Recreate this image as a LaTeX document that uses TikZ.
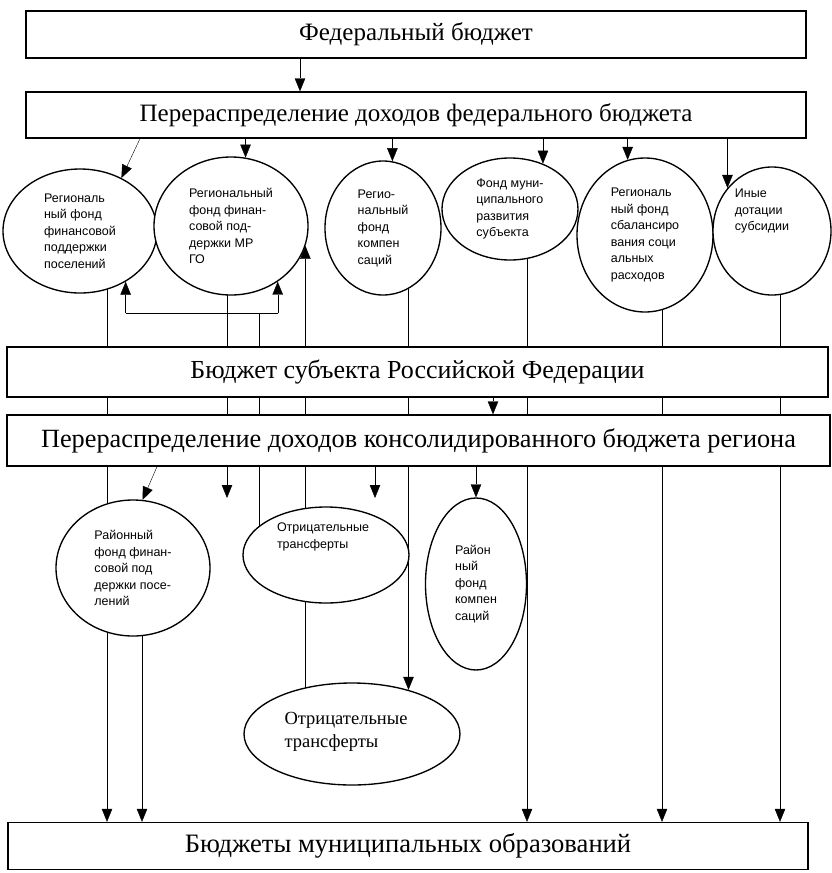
\documentclass[tikz,border=0pt]{standalone}
\usepackage{fontspec}
\setmainfont{Liberation Serif}
\newfontfamily\fundfont{Liberation Sans}
\usetikzlibrary{arrows.meta,shapes.geometric}
\pgfdeclarelayer{back}
\pgfsetlayers{back,main}

\begin{document}
\begin{tikzpicture}[x=1pt, y=-1pt, line width=1.35pt,
    budget/.style={draw, fill=white, inner sep=0pt, font=\fontsize{26}{30}\selectfont},
    fund/.style={draw, ellipse, fill=white, inner sep=0pt, align=left,
        font=\fundfont\fontsize{12.5}{16.5}\selectfont},
    fundtxt/.style={inner sep=0pt, align=left, font=\fundfont\fontsize{12.5}{16.5}\selectfont},
    flow/.style={-{Triangle[length=13pt,width=10.5pt]}},
    upflow/.style={{Triangle[length=13pt,width=10.5pt]}-}]
    \useasboundingbox (0,0) rectangle (831,873);

    % budgets
    \node[budget, minimum width=780pt, minimum height=47pt, font=\fontsize{25}{30}\selectfont] (fed) at (416,34.5) {Федеральный бюджет};
    \node[budget, minimum width=780pt, minimum height=46pt, font=\fontsize{25}{30}\selectfont] (redist) at (416,115) {Перераспределение доходов федерального бюджета};
    \node[budget, minimum width=821pt, minimum height=50pt] (subj) at (417.5,372) {Бюджет субъекта Российской Федерации};
    \node[budget, minimum width=823pt, minimum height=51pt, font=\fontsize{26.3}{30}\selectfont] (cons) at (418.5,440.5) {Перераспределение доходов консолидированного бюджета региона};
    \node[budget, minimum width=800pt, minimum height=47pt, font=\fontsize{26.6}{30}\selectfont] (mun) at (408,846) {Бюджеты муниципальных образований};

    % regional funds
    \node[fund, minimum width=154pt, minimum height=124pt] (e1) at (80,231) {Региональ\\ный фонд\\финансовой\\поддержки\\поселений};
    \node[fund, minimum width=154pt, minimum height=138pt] (e2) at (231,226) {Региональный\\фонд финан-\\совой под-\\держки МР\\ГО};
    \node[fund, minimum width=116pt, minimum height=134pt] (e3) at (383,228) {Регио-\\нальный\\фонд\\компен\\саций};
    \node[fund, minimum width=136pt, minimum height=102pt] (e4) at (510,209) {Фонд муни-\\ципального\\развития\\субъекта};
    \node[fund, minimum width=136pt, minimum height=154pt] (e5) at (645,235) {Региональ\\ный фонд\\сбалансиро\\вания соци\\альных\\расходов};
    \node[fund, minimum width=118pt, minimum height=128pt] (e6) at (772,231) {};
    \node[fundtxt] (e6txt) at ([xshift=-10pt, yshift=20pt]e6.center) {Иные\\дотации\\субсидии};

    % district funds
    \node[fund, minimum width=154pt, minimum height=136pt] (e7) at (133,568) {Районный\\фонд финан-\\совой под\\держки посе-\\лений};
    \node[fund, minimum width=166pt, minimum height=96pt] (e8) at (326,555) {};
    \node[fundtxt] (e8txt) at ([xshift=-3pt, yshift=18pt]e8.center) {Отрицательные\\трансферты};
    \node[fund, minimum width=101pt, minimum height=172pt] (e9) at (476,584) {Район\\ный\\фонд\\компен\\саций};
    \node[fund, minimum width=216pt, minimum height=102pt] (e10) at (352,734) {};
    \node[fundtxt, font=\rmfamily\fontsize{18.5}{23}\selectfont] (e10txt) at ([xshift=-6pt, yshift=2pt]e10.center) {Отрицательные\\трансферты};

    % lanes
    \foreach \n/\x in {lA/107, lB/142, lC/140, lD/157, lF/259, lG/300, lI/493, lJ/527, lK/662, lL/780}
        \coordinate (\n) at (\x,0);
    \coordinate (yfb) at (0,313);
    \coordinate (freeA) at (227,498);
    \coordinate (freeB) at (375,498);

    \begin{pgfonlayer}{back}
        % federal level
        \draw[flow] (fed.south -| lG) -- (redist.north -| lG);
        \draw[flow] (redist.south -| lC) -- (e1.52);
        \draw[flow] (redist.south -| e2.78) -- (e2.78);
        \draw[flow] (redist.south -| e3.82) -- (e3.82);
        \draw[flow] (redist.south -| e4.54) -- (e4.54);
        \draw[flow] (redist.south -| e5.103) -- (e5.103);
        \draw[flow] (redist.south -| e6.136) -- (e6.136);

        % back to the regional funds
        \coordinate (fbl) at (e1.-48 |- yfb);
        \coordinate (fbr) at (e2.-50 |- yfb);
        \draw[flow] (fbl) -- (e1.-48);
        \draw[flow] (fbr) -- (e2.-50);
        \draw (fbl) -- (fbr);
        \draw (lF |- yfb) -- (lF |- e8.center);

        % subject level
        \draw[flow] (lA |- e1.center) -- (lA |- mun.north);
        \draw[flow] (freeA |- e2.center) -- (freeA);
        \draw[upflow] (e2.-15) -- (e2.-15 |- e10.center);
        \draw[flow] (e10.38 |- e3.center) -- (e10.38);
        \draw[flow] (lJ |- e4.center) -- (lJ |- mun.north);
        \draw[flow] (lK |- e5.center) -- (lK |- mun.north);
        \draw[flow] (lL |- e6.center) -- (lL |- mun.north);
        \draw[flow] (subj.south -| lI) -- (cons.north -| lI);

        % region level
        \draw[flow] (cons.south -| lD) -- (e7.82);
        \draw[flow] (cons.south -| freeB) -- (freeB);
        \draw[flow] (cons.south -| e9.north) -- (e9.north);
        \draw[flow] (lB |- e7.center) -- (lB |- mun.north);
    \end{pgfonlayer}
\end{tikzpicture}
\end{document}
